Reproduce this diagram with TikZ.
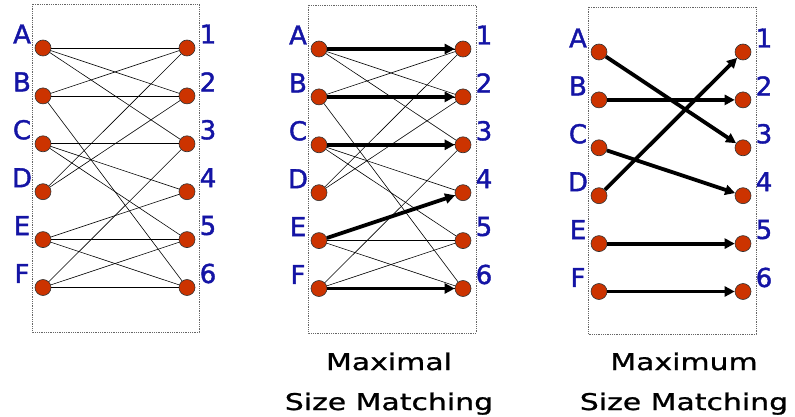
\documentclass[tikz,border=0pt]{standalone}
\usepackage{fontspec}
\usetikzlibrary{arrows.meta}
\newfontfamily\tagfont[FakeBold=1.5]{DejaVu Sans}
\newfontfamily\capfont[FakeStretch=1.3,FakeBold=1]{DejaVu Sans}
\definecolor{vtxred}{RGB}{204,51,0}
\definecolor{tagblue}{RGB}{20,20,165}

\begin{document}
\begin{tikzpicture}[x=1pt, y=-1pt,
    vtx/.style={circle, draw=black!80, fill=vtxred, minimum size=16pt, inner sep=0pt, line width=0.6pt},
    tag/.style={text=tagblue, inner sep=0pt, font=\tagfont\fontsize{26}{30}\selectfont},
    caption/.style={align=center, inner sep=0pt, font=\capfont\fontsize{23}{40}\selectfont},
    edge/.style={line width=0.6pt},
    match/.style={line width=3.8pt, -{Triangle[length=10pt,width=10pt]}},
    frame/.style={draw=black!60, densely dotted, line width=0.8pt}]
  \useasboundingbox (0,0) rectangle (795,417);

  \foreach \p/\xl/\xr/\yt/\bl/\bt/\br/\bb in {1/43/187/48/32/4/199/332, 2/319/463/49/308/5/476/333, 3/599/743/52/588/7/756/334} {
    \draw[frame] (\bl,\bt) rectangle (\br,\bb);
    \foreach \l [count=\i] in {A,...,F} {
      \node[vtx] (\l-\p) at (\xl,{\yt+(\i-1)*47.9}) {};
      \node[tag] (t\l-\p) at ({\xl-21},{\yt+(\i-1)*47.9-14}) {\l};
      \node[vtx] (r\i-\p) at (\xr,{\yt+(\i-1)*47.9}) {};
      \node[tag] (t\i-\p) at ({\xr+21},{\yt+(\i-1)*47.9-14}) {\i};
    }
  }

  \foreach \p in {1,2}
    \foreach \u/\v in {A/1,A/2,A/3,B/1,B/2,B/6,C/3,C/4,C/5,D/1,D/2,E/4,E/5,E/6,F/3,F/5,F/6}
      \draw[edge] (\u-\p) -- (r\v-\p);

  \foreach \u/\v in {A/1,B/2,C/3,E/4,F/6}
    \draw[match] (\u-2) -- (r\v-2);
  \foreach \u/\v in {A/3,B/2,C/4,D/1,E/5,F/6}
    \draw[match] (\u-3) -- (r\v-3);

  \node[caption, anchor=base] (maximal) at (389,410) {Maximal\\Size Matching};
  \node[caption, anchor=base] (maximum) at (684,410) {Maximum\\Size Matching};
\end{tikzpicture}
\end{document}
